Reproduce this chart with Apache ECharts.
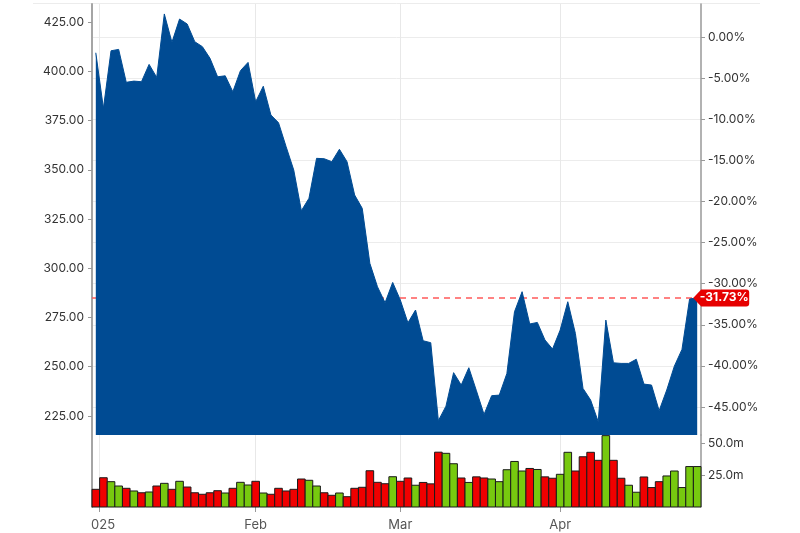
<!DOCTYPE html>
<html>
<head>
<meta charset="utf-8">
<script src="https://cdn.jsdelivr.net/npm/echarts@6/dist/echarts.min.js"></script>
<style>
html, body { margin: 0; padding: 0; background: #fff; }
#chart { width: 800px; height: 533px; }
</style>
</head>
<body>
<div id="chart"></div>
<script>
// daily closes, one per trading session (Dec 31 .. late Apr)
const closes = [
    409.4, 381.2, 410.4, 411.1, 394.4, 395.0, 394.7, 403.5, 396.9, 429.1,
    414.7, 426.5, 424.0, 415.0, 412.5, 406.6, 397.2, 397.7, 389.6, 400.3,
    404.5, 384.5, 392.4, 377.8, 373.9, 361.7, 349.9, 329.2, 335.5, 355.8,
    355.6, 354.1, 360.4, 354.1, 337.2, 330.4, 302.5, 290.6, 282.5, 292.8,
    283.9, 272.3, 278.8, 263.2, 262.2, 222.6, 230.0, 247.0, 240.7, 249.5,
    237.8, 225.8, 235.3, 235.6, 246.6, 277.9, 288.1, 271.7, 272.5, 263.6,
    259.0, 268.6, 283.0, 266.9, 239.0, 233.1, 222.1, 273.7, 252.0, 251.7,
    251.7, 253.8, 241.2, 240.7, 227.7, 238.2, 250.3, 258.8, 284.4, 284.96
];

// volume in millions
const volumes = [
    13.9, 23.0, 19.9, 16.5, 14.7, 12.6, 11.2, 11.8, 16.5, 18.6,
    13.9, 20.2, 15.7, 11.2, 10.0, 11.2, 12.8, 11.0, 14.7, 19.4,
    17.3, 20.2, 11.0, 10.0, 14.7, 12.6, 13.9, 22.0, 21.0, 16.5,
    11.2, 9.2, 11.0, 8.1, 14.7, 15.5, 28.5, 19.4, 18.3, 23.8,
    20.2, 22.8, 17.1, 19.3, 18.2, 43.1, 42.2, 34.0, 22.8, 19.3,
    23.7, 22.8, 22.0, 19.9, 29.3, 35.8, 28.3, 30.3, 29.5, 23.7,
    22.6, 25.7, 43.0, 28.3, 39.5, 43.0, 36.7, 56.1, 36.7, 22.6,
    17.1, 11.6, 23.6, 15.3, 19.9, 24.4, 28.3, 15.3, 31.8, 31.8
];

// 1 = up session (green), 0 = down session (red)
const volumeUp = [
    0, 0, 1, 1, 0, 1, 0, 1, 0, 1,
    0, 1, 0, 0, 0, 0, 0, 1, 0, 1,
    1, 0, 1, 0, 0, 0, 0, 0, 1, 1,
    0, 0, 1, 0, 0, 0, 0, 0, 0, 1,
    0, 0, 1, 0, 0, 0, 1, 1, 0, 1,
    0, 0, 1, 1, 1, 1, 1, 0, 1, 0,
    0, 1, 1, 0, 0, 0, 0, 1, 0, 0,
    1, 1, 0, 0, 0, 1, 1, 1, 1, 1
];

const basePrice = 417.4;
const priceTicks = [225, 250, 275, 300, 325, 350, 375, 400, 425];
const pctTicks = [0, -5, -10, -15, -20, -25, -30, -35, -40, -45];
const volumeTicks = [25, 50];
const monthTicks = [0.5, 21, 40, 61];
const monthLabels = ['025', 'Feb', 'Mar', 'Apr'];

const priceMin = 215.35;
const priceMax = 434.15;
const volumeMax = 56.6;

const BLUE = '#004b93';
const RED = '#f00000';
const GREEN = '#77c90f';
const FONT = 'Inter';

const chart = echarts.init(document.getElementById('chart'), null, { renderer: 'canvas' });

const last = closes[closes.length - 1];
const lastPct = (last / basePrice - 1) * 100;
const toPct = (p) => (p / basePrice - 1) * 100;

const priceData = closes.map((v, i) => [i, v]);
const volumeData = volumes.map((v, i) => [i, v, volumeUp[i]]);

// one full-width column per session, edges taken from the axis scale
function renderVolume(params, api) {
    const i = api.value(0);
    const v = api.value(1);
    const topLeft = api.coord([i - 0.5, v]);
    const bottomRight = api.coord([i + 0.5, 0]);
    return {
        type: 'rect',
        shape: {
            x: topLeft[0],
            y: topLeft[1],
            width: bottomRight[0] - topLeft[0],
            height: bottomRight[1] - topLeft[1]
        },
        style: {
            fill: api.value(2) ? GREEN : RED,
            stroke: '#1a1a1a',
            lineWidth: 1
        }
    };
}

const option = {
    animation: false,
    backgroundColor: '#fff',
    textStyle: { fontFamily: FONT },
    graphic: [
        {
            type: 'line',
            shape: { x1: 33, y1: 3.5, x2: 760, y2: 3.5 },
            style: { stroke: '#ececec', lineWidth: 1 },
            silent: true
        }
    ],
    grid: [
        { left: 92, right: 99, top: 4, height: 431 },
        { left: 92, right: 99, top: 435, height: 72 }
    ],
    xAxis: [
        {
            type: 'value',
            gridIndex: 0,
            min: -0.5,
            max: 79.5,
            axisLine: { show: false, onZero: false },
            axisTick: { show: false, customValues: monthTicks },
            axisLabel: { show: false, customValues: monthTicks },
            splitLine: { show: true, lineStyle: { color: '#e8e8e8', width: 1 } }
        },
        {
            type: 'value',
            gridIndex: 1,
            min: -0.5,
            max: 79.5,
            axisLine: { show: false, onZero: false },
            axisTick: {
                show: true,
                length: 5,
                customValues: monthTicks,
                lineStyle: { color: '#999' }
            },
            axisLabel: {
                show: true,
                customValues: monthTicks,
                margin: 12,
                color: '#555',
                fontSize: 13,
                fontFamily: FONT,
                formatter: (v) => {
                    const i = monthTicks.indexOf(v);
                    return i === 0 ? '{first|' + monthLabels[i] + '}' : monthLabels[i];
                },
                rich: {
                    first: { color: '#555', fontSize: 13, fontFamily: FONT, padding: [0, 0, 0, 7] }
                }
            },
            splitLine: { show: true, lineStyle: { color: '#e8e8e8', width: 1 } }
        }
    ],
    yAxis: [
        {
            type: 'value',
            gridIndex: 0,
            position: 'left',
            min: priceMin,
            max: priceMax,
            axisLine: { show: true, onZero: false, lineStyle: { color: '#a5a5a5', width: 2 } },
            axisTick: {
                show: true,
                length: 4,
                customValues: priceTicks,
                lineStyle: { color: '#999' }
            },
            axisLabel: {
                customValues: priceTicks,
                margin: 8,
                color: '#333',
                fontSize: 12,
                fontFamily: FONT,
                formatter: (v) => v.toFixed(2)
            },
            splitLine: { show: false }
        },
        {
            type: 'value',
            gridIndex: 0,
            position: 'right',
            min: toPct(priceMin),
            max: toPct(priceMax),
            axisLine: { show: true, onZero: false, lineStyle: { color: '#999', width: 1.5 } },
            axisTick: {
                show: true,
                length: 4,
                customValues: pctTicks,
                lineStyle: { color: '#999' }
            },
            axisLabel: {
                customValues: pctTicks,
                margin: 7,
                color: '#333',
                fontSize: 12,
                fontFamily: FONT,
                formatter: (v) => v.toFixed(2) + '%'
            },
            splitLine: { show: true, lineStyle: { color: '#ececec', width: 1 } }
        },
        {
            type: 'value',
            gridIndex: 1,
            position: 'right',
            min: 0,
            max: volumeMax,
            axisLine: { show: true, onZero: false, lineStyle: { color: '#999', width: 1.5 } },
            axisTick: {
                show: true,
                length: 4,
                customValues: volumeTicks,
                lineStyle: { color: '#999' }
            },
            axisLabel: {
                customValues: volumeTicks,
                margin: 7,
                color: '#333',
                fontSize: 12,
                fontFamily: FONT,
                formatter: (v) => v.toFixed(1) + 'm'
            },
            splitLine: { show: false }
        },
        {
            // left spine of the volume pane
            type: 'value',
            gridIndex: 1,
            position: 'left',
            min: 0,
            max: 1,
            axisLine: { show: true, onZero: false, lineStyle: { color: '#a5a5a5', width: 2 } },
            axisTick: { show: false },
            axisLabel: { show: false },
            splitLine: { show: false }
        }
    ],
    series: [
        {
            name: 'Price',
            type: 'line',
            xAxisIndex: 0,
            yAxisIndex: 0,
            data: priceData,
            symbol: 'none',
            clip: false,
            lineStyle: { color: BLUE, width: 1 },
            itemStyle: { color: BLUE },
            areaStyle: { color: BLUE, opacity: 1 },
            markLine: {
                silent: true,
                z: 1,
                symbol: 'none',
                label: { show: false },
                lineStyle: { color: '#ff5a5a', type: [6, 5], width: 1.5 },
                data: [{ yAxis: last }]
            },
            markPoint: {
                silent: true,
                data: [{ coord: [closes.length - 1, last] }],
                symbol: 'path://M0,8.5 L8,0 L53,0 Q56,0 56,3 L56,14 Q56,17 53,17 L8,17 Z',
                symbolSize: [56, 17],
                symbolKeepAspect: false,
                symbolOffset: [24, 0],
                itemStyle: { color: '#e60000' },
                label: {
                    show: true,
                    position: 'inside',
                    offset: [3, 0],
                    color: '#fff',
                    fontWeight: 'bold',
                    fontSize: 12,
                    fontFamily: FONT,
                    formatter: () => lastPct.toFixed(2) + '%'
                }
            }
        },
        {
            name: 'Volume',
            type: 'custom',
            xAxisIndex: 1,
            yAxisIndex: 2,
            data: volumeData,
            encode: { x: 0, y: 1 },
            renderItem: renderVolume
        }
    ]
};

chart.setOption(option);
</script>
</body>
</html>
